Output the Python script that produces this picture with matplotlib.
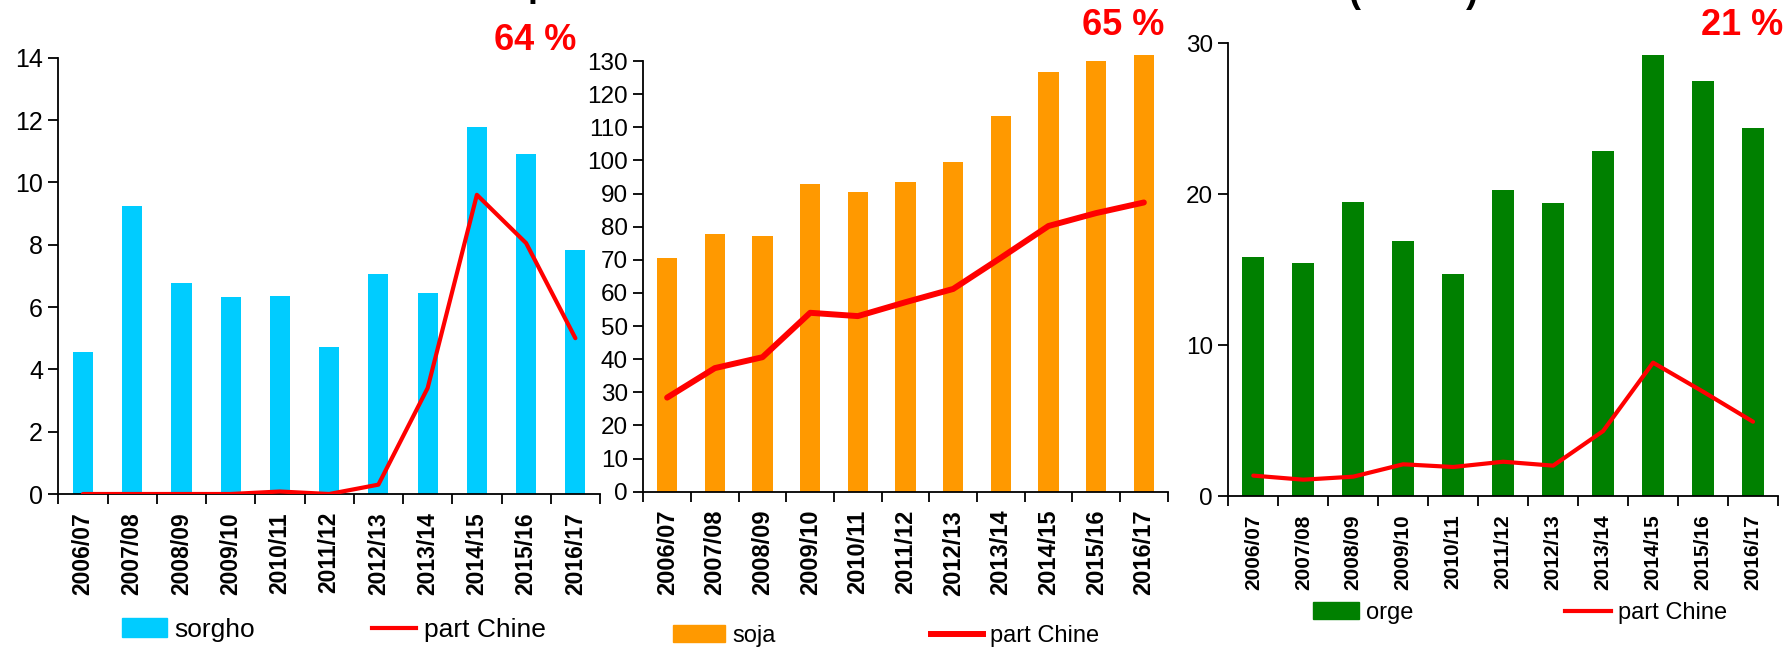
import matplotlib.pyplot as plt
from matplotlib.patches import Patch
from matplotlib.lines import Line2D

plt.rcParams['font.family'] = ['Liberation Sans', 'DejaVu Sans']

seasons = ['2006/07', '2007/08', '2008/09', '2009/10', '2010/11', '2011/12',
           '2012/13', '2013/14', '2014/15', '2015/16', '2016/17']

# sorgho
sorgho = [4.56, 9.24, 6.77, 6.32, 6.35, 4.72, 7.06, 6.45, 11.78, 10.91, 7.83]
sorgho_chine = [0, 0, 0, 0, 0.08, 0, 0.3, 3.4, 9.6, 8.05, 5.0]

# soja
soja = [70.5, 77.8, 77.2, 92.9, 90.5, 93.5, 99.5, 113.4, 126.7, 130.0, 131.8]
soja_chine = [28.4, 37.3, 40.6, 54.0, 53.0, 57.2, 61.2, 70.6, 80.2, 84.1, 87.3]

# orge
orge = [15.85, 15.45, 19.5, 16.9, 14.7, 20.3, 19.4, 22.9, 29.2, 27.5, 24.4]
orge_chine = [1.37, 1.1, 1.3, 2.12, 1.94, 2.29, 2.03, 4.32, 8.85, 6.93, 4.94]

shares = ['64 %', '65 %', '21 %']

W, H = 1791, 647
fig = plt.figure(figsize=(W / 100, H / 100), dpi=100)


def px(x0, y0, x1, y1):
    # pixel box -> figure rect
    return [x0 / W, 1 - y1 / H, (x1 - x0) / W, (y1 - y0) / H]


def draw_panel(box, vals, chine, color, ymax, ystep, xmax, bw, lw, xfs, yfs,
               label, leg_xy, lfs, hl, colsp):
    ax = fig.add_axes(px(*box))
    x = list(range(len(seasons)))
    ax.bar(x, vals, width=bw, color=color, zorder=2, clip_on=False)
    ax.plot(x, chine, color='#FF0000', lw=lw, zorder=3, solid_capstyle='round')
    ax.set_xlim(-0.5, xmax)
    ax.set_ylim(0, ymax)
    ax.set_yticks(range(0, ymax + 1, ystep))
    ax.set_xticks([i - 0.5 for i in range(len(seasons) + 1)])
    ax.set_xticklabels([])
    ax.set_xticks(x, minor=True)
    ax.set_xticklabels(seasons, minor=True, rotation=90, fontweight='bold',
                       fontsize=xfs)
    ax.tick_params(axis='x', which='major', length=7, width=1.3, direction='out')
    ax.tick_params(axis='x', which='minor', length=0, pad=13)
    ax.tick_params(axis='y', length=7, width=1.3, labelsize=yfs, pad=4)
    for s in ['top', 'right']:
        ax.spines[s].set_visible(False)
    for s in ['left', 'bottom']:
        ax.spines[s].set_linewidth(1.3)
    handles = [Patch(color=color, label=label),
               Line2D([0], [0], color='#FF0000', lw=lw, label='part Chine')]
    ax.legend(handles=handles, ncol=2, frameon=False, fontsize=lfs,
              loc='center left', bbox_to_anchor=(leg_xy[0] / W, 1 - leg_xy[1] / H),
              bbox_transform=fig.transFigure, borderpad=0, borderaxespad=0,
              handlelength=hl, handletextpad=0.3, columnspacing=colsp,
              handleheight=0.72)
    return ax


draw_panel((58.3, 57.7, 600, 494), sorgho, sorgho_chine, '#00CCFF', 14, 2,
           10.5, 0.41, 3.0, 16.5, 18, 'sorgho', (122, 630), 19, 1.7, 4.4)
draw_panel((643.3, 61, 1167.7, 491.7), soja, soja_chine, '#FF9900', 130, 10,
           10.5, 0.43, 4.3, 17, 17.5, 'soja', (673, 636), 17, 2.2, 6.6)
draw_panel((1228.3, 43.3, 1778, 496.3), orge, orge_chine, '#008000', 30, 10,
           10.22, 0.44, 3.0, 15, 17.5, 'orge', (1313, 613), 17, 1.95, 6.4)

# red share labels
for txt, xx, yy in zip(shares, [494, 1082, 1701], [50, 35, 35]):
    fig.text(xx / W, 1 - yy / H, txt, color='#FF0000', fontsize=26,
             fontweight='bold', va='baseline', ha='left')

# bits of the cut-off title above the charts
fig.text(528 / W, 1 + 4.5 / H, 'p', fontsize=26, fontweight='bold',
         va='baseline', ha='left')
fig.text(1348 / W, 1 - 2.5 / H, '(', fontsize=26, fontweight='bold',
         va='baseline', ha='left')
fig.text(1466 / W, 1 - 2.5 / H, ')', fontsize=26, fontweight='bold',
         va='baseline', ha='left')

fig.savefig('out.png', dpi=100)
